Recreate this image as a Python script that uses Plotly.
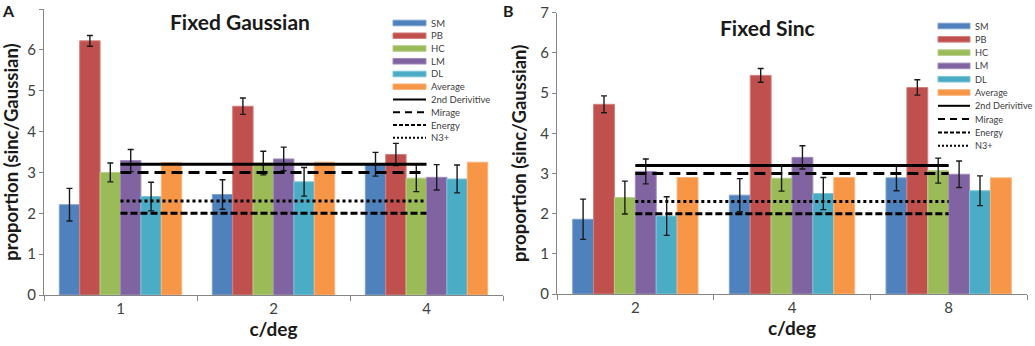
import plotly.graph_objects as go

# ---------------- data ----------------
series = ["SM", "PB", "HC", "LM", "DL", "Average"]
cats_A = ["1", "2", "4"]
cats_B = ["2", "4", "8"]

sm_A = [2.21, 2.46, 3.20]
pb_A = [6.22, 4.62, 3.44]
hc_A = [3.00, 3.23, 2.86]
lm_A = [3.29, 3.33, 2.88]
dl_A = [2.41, 2.77, 2.84]
avg_A = [3.24, 3.25, 3.25]
sm_A_err = [0.40, 0.36, 0.29]
pb_A_err = [0.13, 0.20, 0.27]
hc_A_err = [0.23, 0.29, 0.33]
lm_A_err = [0.27, 0.29, 0.31]
dl_A_err = [0.35, 0.35, 0.34]

sm_B = [1.86, 2.46, 2.89]
pb_B = [4.72, 5.44, 5.14]
hc_B = [2.40, 2.88, 3.07]
lm_B = [3.05, 3.40, 2.98]
dl_B = [1.94, 2.50, 2.57]
avg_B = [2.90, 2.90, 2.89]
sm_B_err = [0.50, 0.41, 0.32]
pb_B_err = [0.21, 0.17, 0.19]
hc_B_err = [0.41, 0.32, 0.31]
lm_B_err = [0.31, 0.29, 0.33]
dl_B_err = [0.48, 0.40, 0.37]

model_names = ["2nd Derivitive", "Mirage", "Energy", "N3+"]
model_values = [3.2, 3.0, 2.0, 2.3]

# ---------------- styles ----------------
W, H = 1035, 346
bar_colors = ["#4F81BD", "#C0504D", "#9BBB59", "#8064A2", "#4BACC6", "#F79646"]
bar_edges = ["#7FA3CF", "#D3807E", "#B6CE8B", "#A18BBB", "#7FC4D8", "#F9B37D"]
model_dash = ["solid", "11px,6px", "7px,3px", "dot"]
legend_dash = ["solid", "7px,5px", "4px,2px", "2px,2px"]
FONT = "Lato, 'Open Sans', sans-serif"
TXT = "#404040"
AX = "#868686"


def px(x):
    return x / W


def py(y):
    return 1 - y / H


fig = go.Figure()

panels = [
    dict(cats=cats_A, vals=[sm_A, pb_A, hc_A, lm_A, dl_A, avg_A],
         errs=[sm_A_err, pb_A_err, hc_A_err, lm_A_err, dl_A_err, None],
         xa="x", ya="y"),
    dict(cats=cats_B, vals=[sm_B, pb_B, hc_B, lm_B, dl_B, avg_B],
         errs=[sm_B_err, pb_B_err, hc_B_err, lm_B_err, dl_B_err, None],
         xa="x2", ya="y2"),
]

for p in panels:
    for i, name in enumerate(series):
        err = p["errs"][i]
        fig.add_trace(go.Bar(
            x=p["cats"], y=p["vals"][i], name=name, showlegend=False,
            xaxis=p["xa"], yaxis=p["ya"],
            marker=dict(color=bar_colors[i], line=dict(color=bar_edges[i], width=1)),
            error_y=(dict(type="data", array=err, color="#1a1a1a", thickness=1.4, width=3)
                     if err is not None else dict(visible=False)),
        ))
    for j, name in enumerate(model_names):
        fig.add_trace(go.Scatter(
            x=[p["cats"][0], p["cats"][-1]], y=[model_values[j]] * 2,
            mode="lines", name=name, showlegend=False,
            xaxis=p["xa"], yaxis=p["ya"],
            line=dict(color="black", width=3, dash=model_dash[j]),
        ))

# ---------------- axes ----------------
dom_A_x = [px(44), px(503)]
dom_B_x = [px(557), px(1027)]
dom_A_y = [py(295), py(9)]
dom_B_y = [py(294), py(12.7)]

common_x = dict(type="category", showline=True, linecolor=AX, linewidth=1,
                ticks="outside", tickson="boundaries", ticklen=5, tickcolor=AX,
                tickfont=dict(size=15, color=TXT, family=FONT), showgrid=False,
                zeroline=False, automargin=False,
                title=dict(text="<b>c/deg</b>", font=dict(size=19, color="#1a1a1a", family=FONT),
                           standoff=4))
common_y = dict(range=[0, 7], dtick=1, showline=True, linecolor=AX, linewidth=1,
                ticks="outside", ticklen=4, tickcolor=AX,
                tickfont=dict(size=15, color=TXT, family=FONT), showgrid=False,
                zeroline=False, automargin=False,
                title=dict(text="<b>proportion (sinc/Gaussian)</b>",
                           font=dict(size=18.5, color="#1a1a1a", family=FONT), standoff=8))

fig.update_layout(
    xaxis=dict(common_x, domain=dom_A_x, anchor="y"),
    yaxis=dict(common_y, domain=dom_A_y, anchor="x"),
    xaxis2=dict(common_x, domain=dom_B_x, anchor="y2"),
    yaxis2=dict(common_y, domain=dom_B_y, anchor="x2"),
)

# ---------------- titles / labels ----------------
annotations = [
    dict(text="<b>Fixed Gaussian</b>", x=px(240), y=py(21), font=dict(size=21)),
    dict(text="<b>Fixed Sinc</b>", x=px(767), y=py(27), font=dict(size=21)),
    dict(text="<b>A</b>", x=px(8), y=py(10), font=dict(size=16)),
    dict(text="<b>B</b>", x=px(508), y=py(10), font=dict(size=16)),
]
for a in annotations:
    a.update(xref="paper", yref="paper", showarrow=False, xanchor="center", yanchor="middle")
    a["font"].update(family=FONT, color="#1a1a1a")

# ---------------- custom compact legends ----------------
shapes = []
legend_specs = [dict(x0=393, x1=426, tx=429, y0=23, dy=12.75, fs=9.5),
                dict(x0=938, x1=970, tx=973, y0=26, dy=13.3, fs=9.2)]
labels = series + model_names
for spec in legend_specs:
    for k, lab in enumerate(labels):
        yc = spec["y0"] + k * spec["dy"]
        if k < len(series):
            shapes.append(dict(type="rect", xref="paper", yref="paper",
                               x0=px(spec["x0"]), x1=px(spec["x1"]),
                               y0=py(yc + 2.8), y1=py(yc - 2.8),
                               fillcolor=bar_colors[k], line=dict(color=bar_edges[k], width=1)))
        else:
            m = k - len(series)
            shapes.append(dict(type="line", xref="paper", yref="paper",
                               x0=px(spec["x0"]), x1=px(spec["x1"]),
                               y0=py(yc), y1=py(yc),
                               line=dict(color="black", width=2, dash=legend_dash[m])))
        annotations.append(dict(text=lab, xref="paper", yref="paper", showarrow=False,
                                x=px(spec["tx"]), y=py(yc), xanchor="left", yanchor="middle",
                                font=dict(size=spec["fs"], color=TXT, family=FONT)))

fig.update_layout(
    width=W, height=H,
    margin=dict(l=0, r=0, t=0, b=0),
    paper_bgcolor="white", plot_bgcolor="white",
    barmode="group", bargap=0.2, bargroupgap=0,
    showlegend=False,
    annotations=annotations, shapes=shapes,
    font=dict(family=FONT, color=TXT),
)

fig.write_html("out.html",
               config={"displayModeBar": False},
               post_script="document.body.style.margin='0px';document.body.style.overflow='hidden';")
